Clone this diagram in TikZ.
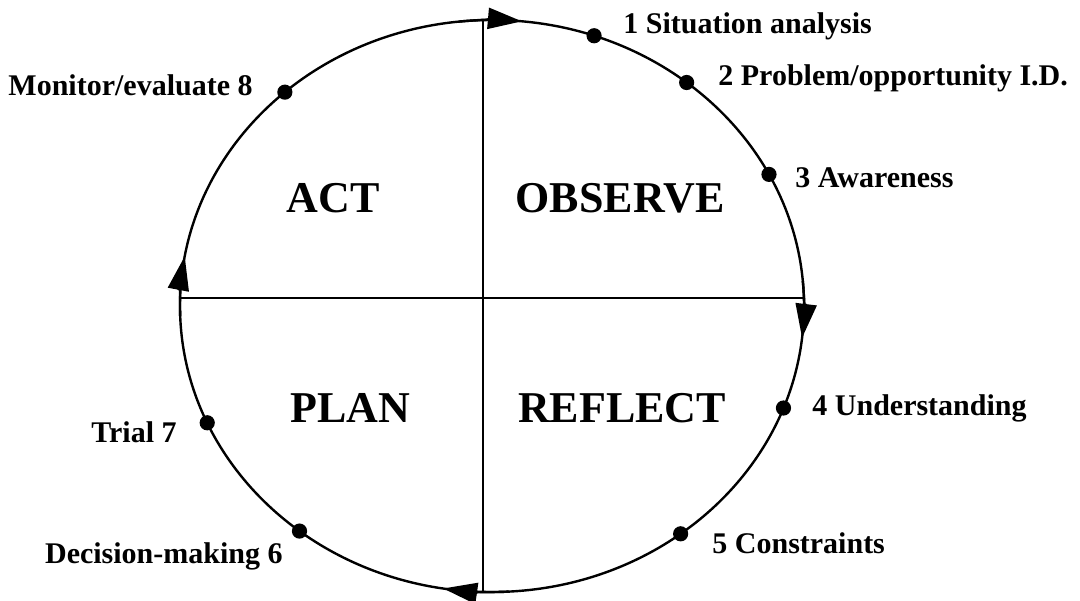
\documentclass[tikz,border=0pt]{standalone}
\usepackage{fontspec}
\setmainfont{Liberation Serif}
\usetikzlibrary{arrows.meta}

\tikzset{
    cycleline/.style={line width=1.2pt, line cap=round},
    stage/.style={font=\fontsize{15}{18}\selectfont\bfseries, inner sep=0pt},
    phase/.style={font=\fontsize{22}{26}\selectfont\bfseries, inner sep=0pt, anchor=base},
    flow/.style={cycleline, -{Triangle[length=17pt, width=10.5pt]}},
}

\begin{document}
\begin{tikzpicture}[x=0.5pt, y=-0.5pt]
            \useasboundingbox (0,0) rectangle (1080,600);
            % ---------- cycle ----------
            \coordinate (c) at (492,306);
            \draw[cycleline] (c) ellipse [x radius=312, y radius=286];
            % ---------- quadrants ----------
            \coordinate (top) at (483,20);
            \coordinate (bottom) at (483,592);
            \coordinate (left) at (180,298);
            \coordinate (right) at (804,298);
            \draw[cycleline] (top) -- (bottom);
            \draw[cycleline] (left) -- (right);
            % ---------- direction ----------
            \draw[flow] (c) ++(-96:312 and 286)
                arc [start angle=-96, end angle=-84.5, x radius=312, y radius=286];
            \draw[flow] (c) ++(-5:312 and 286)
                arc [start angle=-5, end angle=6.4, x radius=312, y radius=286];
            \draw[flow] (c) ++(87:312 and 286)
                arc [start angle=87, end angle=99, x radius=312, y radius=286];
            \draw[flow] (c) ++(178:312 and 286)
                arc [start angle=178, end angle=190, x radius=312, y radius=286];
            % ---------- phases ----------
            \node[phase] (act) at (333,212) {ACT};
            \node[phase] (observe) at (620,212) {OBSERVE};
            \node[phase] (plan) at (350,422) {PLAN};
            \node[phase] (reflect) at (622,422) {REFLECT};
            % ---------- stages ----------
            \foreach \name/\ang in {s1/-70.9, s2/-51.4, s3/-27.4, s4/20.9,
                                    s5/52.8, s6/128.1, s7/155.9, s8/228.4} {
                \fill (c) ++(\ang:312 and 286) coordinate (\name) circle (3.8pt);
            }
            \node[stage, anchor=base west] (l1) at (623,33) {1 Situation analysis};
            \node[stage, anchor=base west] (l2) at (718,85) {2 Problem/opportunity I.D.};
            \node[stage, anchor=base west] (l3) at (795,187) {3 Awareness};
            \node[stage, anchor=base west] (l4) at (812,415) {4 Understanding};
            \node[stage, anchor=base west] (l5) at (712,553) {5 Constraints};
            \node[stage, anchor=base east] (l6) at (283,563) {Decision-making 6};
            \node[stage, anchor=base east] (l7) at (177,442) {Trial 7};
            \node[stage, anchor=base east] (l8) at (253,95) {Monitor/evaluate 8};
\end{tikzpicture}
\end{document}
